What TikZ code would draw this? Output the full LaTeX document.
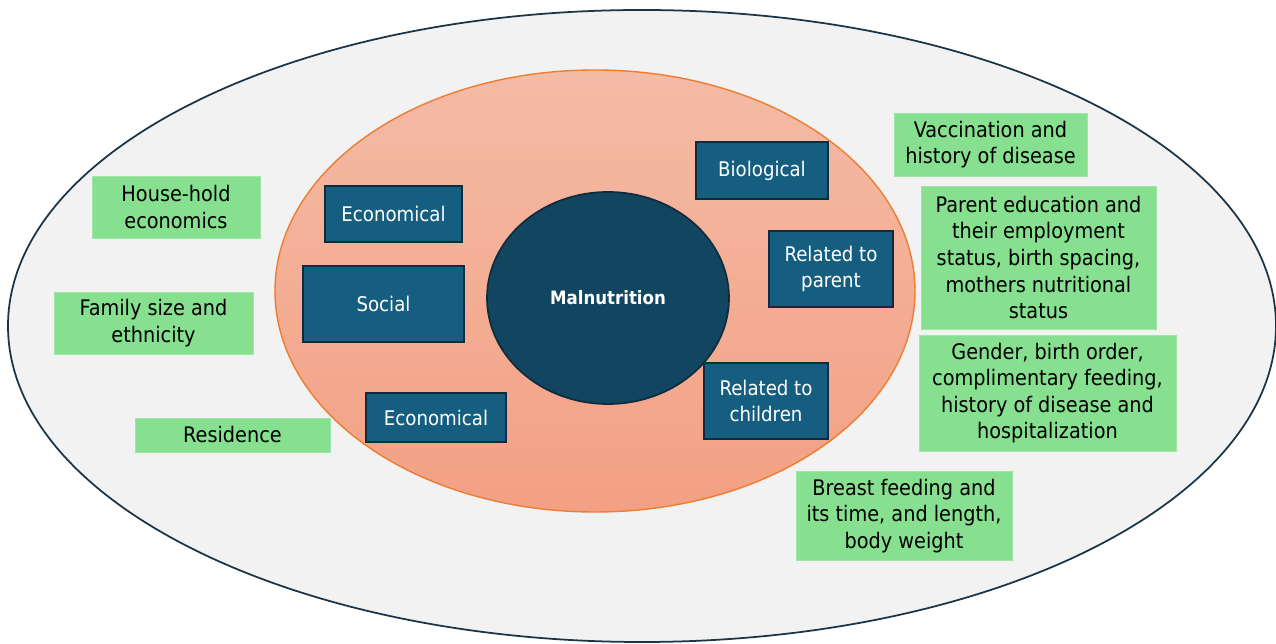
\documentclass[tikz,border=0pt]{standalone}
\usepackage{fontspec}
\setmainfont{DejaVu Sans Condensed}
\usepackage{tikz}
\usetikzlibrary{shapes.geometric}

\definecolor{outerfill}{HTML}{F2F2F2}
\definecolor{outerline}{HTML}{1B3546}
\definecolor{ringtop}{HTML}{F4BBA6}
\definecolor{ringbottom}{HTML}{F3A083}
\definecolor{ringline}{HTML}{ED7D31}
\definecolor{coreblue}{HTML}{124660}
\definecolor{boxblue}{HTML}{165E80}
\definecolor{boxline}{HTML}{0F2C3E}
\definecolor{leafgreen}{HTML}{86E08F}

\tikzset{
  factor/.style={draw=boxline, line width=1.2pt, fill=boxblue, text=white,
    align=center, inner sep=0pt, font=\fontsize{11.5}{14.5}\selectfont},
  detail/.style={draw=leafgreen!80!white, fill=leafgreen, text=black,
    align=center, inner sep=0pt, font=\fontsize{12.2}{15.1}\selectfont}
}

\begin{document}
\begin{tikzpicture}[x=0.02cm, y=-0.02cm]
    \useasboundingbox (0,0) rectangle (1276,644);

    % outer and middle rings
    \draw[fill=outerfill, draw=outerline, line width=1pt] (642,326) ellipse [x radius=634, y radius=316];
    \path[top color=ringtop, bottom color=ringbottom, draw=ringline, line width=0.8pt]
        (595,291) ellipse [x radius=320, y radius=221];

    % centre
    \node[ellipse, draw=boxline, line width=1pt, fill=coreblue, text=white,
          minimum width=4.84cm, minimum height=4.24cm,
          font=\fontsize{10.5}{13}\selectfont\bfseries] (core) at (608,298) {Malnutrition};

    % factors
    \node[factor, minimum width=2.74cm, minimum height=1.12cm] (econA) at (393.5,214) {Economical};
    \node[factor, minimum width=3.22cm, minimum height=1.52cm] (social) at (383.5,304) {Social};
    \node[factor, minimum width=2.80cm, minimum height=0.98cm] (econB) at (436,417.5) {Economical};
    \node[factor, minimum width=2.64cm, minimum height=1.14cm] (bio) at (762,170.5) {Biological};
    \node[factor, minimum width=2.48cm, minimum height=1.52cm] (parent) at (831,269) {Related to\\parent};
    \node[factor, minimum width=2.48cm, minimum height=1.52cm] (children) at (766,401) {Related to\\children};

    % details
    \node[detail, minimum width=3.36cm, minimum height=1.24cm] (household) at (176,207) {House-hold\\economics};
    \node[detail, minimum width=3.98cm, minimum height=1.24cm] (family) at (153.5,323) {Family size and\\ethnicity};
    \node[detail, minimum width=3.90cm, minimum height=0.68cm] (residence) at (232.5,435) {Residence};
    \node[detail, minimum width=3.86cm, minimum height=1.26cm] (vaccine) at (990.5,144.5) {Vaccination and\\history of disease};
    \node[detail, minimum width=4.70cm, minimum height=2.86cm] (parentedu) at (1038.5,257.5)
        {Parent education and\\their employment\\status, birth spacing,\\mothers nutritional\\status};
    \node[detail, minimum width=5.14cm, minimum height=2.32cm] (gender) at (1047.5,393)
        {Gender, birth order,\\complimentary feeding,\\history of disease and\\hospitalization};
    \node[detail, minimum width=4.32cm, minimum height=1.78cm] (breast) at (904,516)
        {Breast feeding and\\its time, and length,\\body weight};
\end{tikzpicture}
\end{document}
